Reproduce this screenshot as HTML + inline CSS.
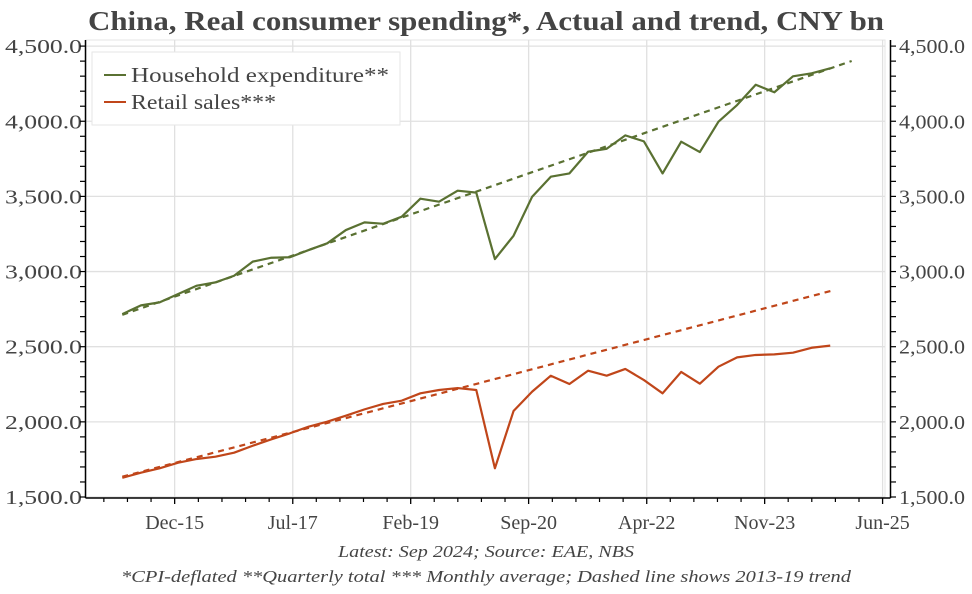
<!DOCTYPE html>
<html><head><meta charset="utf-8">
<style>
body{margin:0;background:#fff;}
svg text{font-family:"Liberation Serif",serif;}
</style></head>
<body>
<svg id="chart" width="972" height="589" xmlns="http://www.w3.org/2000/svg">
<text x="486" y="30" text-anchor="middle" font-size="27" font-weight="bold" fill="#444" textLength="796" lengthAdjust="spacingAndGlyphs">China, Real consumer spending*, Actual and trend, CNY bn</text>
<g id="grid"></g>
<g id="axes"></g>
<g id="series"></g>
<g>
<rect x="92" y="52" width="308" height="73" fill="#fff" stroke="#e6e6e6"/>
<g>
<line x1="104" y1="75" x2="126" y2="75" stroke="#5a7132" stroke-width="2"/>
<text x="131" y="82" font-size="21" fill="#444" textLength="258" lengthAdjust="spacingAndGlyphs">Household expenditure**</text></g>
<g>
<line x1="104" y1="102" x2="126" y2="102" stroke="#c0461a" stroke-width="2"/>
<text x="131" y="109" font-size="21" fill="#444" textLength="145" lengthAdjust="spacingAndGlyphs">Retail sales***</text></g>
</g>
<text x="486" y="557" text-anchor="middle" font-size="17" font-style="italic" fill="#444" textLength="296" lengthAdjust="spacingAndGlyphs">Latest: Sep 2024; Source: EAE, NBS</text>
<text x="486" y="582" text-anchor="middle" font-size="17" font-style="italic" fill="#444" textLength="730" lengthAdjust="spacingAndGlyphs">*CPI-deflated **Quarterly total *** Monthly average; Dashed line shows 2013-19 trend</text>
</svg>
<script>
const household=[2717,2775,2795,2851,2906,2928,2972,3066,3092,3095,3143,3188,3276,3327,3318,3365,3485,3465,3538,3525,3083,3238,3498,3631,3653,3797,3817,3906,3866,3653,3864,3795,3997,4108,4243,4193,4299,4319,4352];
const retail=[1628,1662,1691,1728,1753,1768,1795,1841,1884,1924,1968,2001,2041,2083,2119,2141,2190,2212,2225,2212,1691,2072,2201,2307,2252,2340,2307,2352,2278,2190,2332,2254,2367,2429,2445,2449,2460,2493,2507];
const householdTrend=[2712,4401];
const householdTrendEnd=[0,39.15];
const retailTrend=[1635,2873];
const retailTrendEnd=[0,38.1];
const yTicks=[1500,2000,2500,3000,3500,4000,4500];
const xTickLabels=["Dec-15","Jul-17","Feb-19","Sep-20","Apr-22","Nov-23","Jun-25"];
const xTickIndex=[2.81,9.15,15.48,21.81,28.15,34.48,40.81];

const NS="http://www.w3.org/2000/svg";
const L=86,R=885,T=40,B=498;
function y(v){return 497-(v-1500)*0.1503;}
function xi(i){return 122.3+i*18.63;}
function mk(tag,attrs,parent){const e=document.createElementNS(NS,tag);for(const k in attrs)e.setAttribute(k,attrs[k]);parent.appendChild(e);return e;}
const grid=document.getElementById('grid'),axes=document.getElementById('axes'),ser=document.getElementById('series');
mk('rect',{x:L,y:T,width:R-L,height:B-T,fill:'none',stroke:'#e4e4e4'},grid);
yTicks.forEach(v=>{
  const g=mk('line',{x1:L,x2:R,y1:y(v),y2:y(v),stroke:'#e0e0e0','stroke-width':1.3},grid);
  
  
  const t1=mk('text',{x:82,y:y(v)+7,'text-anchor':'end','font-size':20,fill:'#444',textLength:77,lengthAdjust:'spacingAndGlyphs'},axes);
  t1.textContent=v.toLocaleString('en-US',{minimumFractionDigits:1});
  
  
  const t2=mk('text',{x:899,y:y(v)+7,'font-size':20,fill:'#444',textLength:66,lengthAdjust:'spacingAndGlyphs'},axes);
  t2.textContent=v.toLocaleString('en-US',{minimumFractionDigits:1});
  
  
});
for(let v=1500;v<=4500;v+=100){
  mk('line',{x1:80,x2:85.5,y1:y(v),y2:y(v),stroke:'#000','stroke-width':1.2},axes);
  mk('line',{x1:890.5,x2:896,y1:y(v),y2:y(v),stroke:'#000','stroke-width':1.2},axes);
}
xTickIndex.forEach((ix,k)=>{
  const X=xi(ix);
  if(X<R){
    const g=mk('line',{x1:X,x2:X,y1:T,y2:B,stroke:'#e0e0e0','stroke-width':1.3},grid);
    
    
  }
  mk('line',{x1:X,x2:X,y1:B,y2:B+6,stroke:'#000','stroke-width':1.3},axes);
  for(let m=1;m<5;m++){const xm=X-m*23.6;if(xm>L)mk('line',{x1:xm,x2:xm,y1:B,y2:B+4,stroke:'#000','stroke-width':1.2},axes);}
  const t=mk('text',{x:X,y:529,'text-anchor':'middle','font-size':20,fill:'#444'},axes);
  t.textContent=xTickLabels[k];
  
  
});
mk('line',{x1:85.5,x2:85.5,y1:T,y2:B,stroke:'#000','stroke-width':1.5},axes);
mk('line',{x1:890.5,x2:890.5,y1:T,y2:B,stroke:'#000','stroke-width':1.5},axes);
mk('line',{x1:85.5,x2:890.5,y1:B,y2:B,stroke:'#000','stroke-width':1.5},axes);
function line(vals,color,name){
  const p=mk('polyline',{points:vals.map((v,i)=>xi(i)+','+y(v)).join(' '),fill:'none',stroke:color,'stroke-width':2.2,'stroke-linejoin':'round'},ser);
  
  
}
function trend(vals,ends,color,name){
  const p=mk('line',{x1:xi(ends[0]),y1:y(vals[0]),x2:xi(ends[1]),y2:y(vals[1]),stroke:color,'stroke-width':2.2,'stroke-dasharray':'6 5'},ser);
  
  
}
trend(householdTrend,householdTrendEnd,'#5a7132','household-trend-line');
trend(retailTrend,retailTrendEnd,'#c0461a','retail-trend-line');
line(household,'#5a7132','household-expenditure-line');
line(retail,'#c0461a','retail-sales-line');
</script>
</body></html>
